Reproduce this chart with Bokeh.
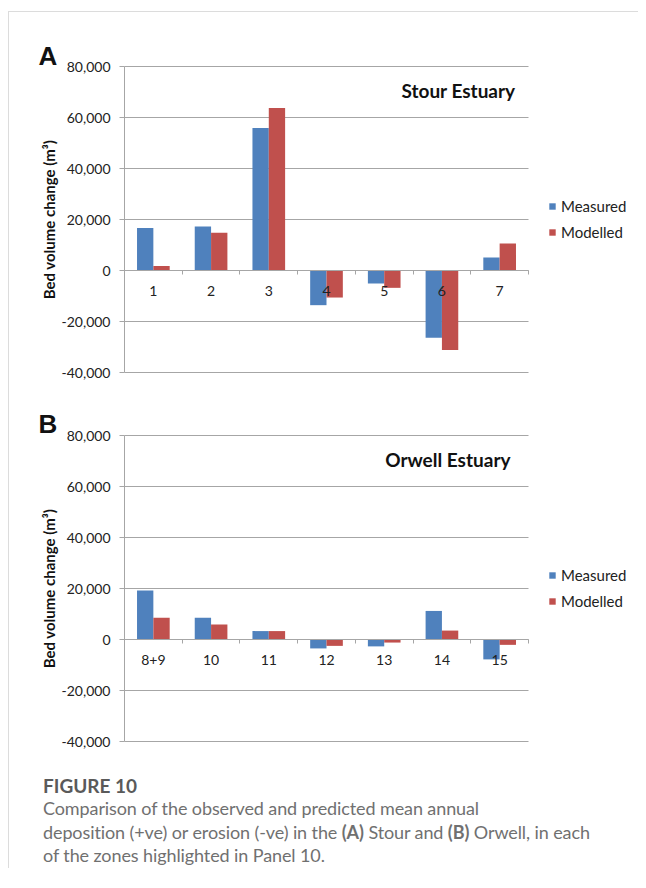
from bokeh.plotting import figure
from bokeh.models import (Range1d, LinearAxis, FixedTicker, NumeralTickFormatter,
                          Legend, LegendItem, Label, Div)
from bokeh.layouts import column
from bokeh.embed import file_html
from bokeh.resources import INLINE

# ---- data ----
zones_a = ["1", "2", "3", "4", "5", "6", "7"]
measured_a = [16700, 17300, 55900, -13600, -5100, -26400, 5100]
modelled_a = [1800, 14800, 63700, -10600, -6800, -31200, 10600]

zones_b = ["8+9", "10", "11", "12", "13", "14", "15"]
measured_b = [19200, 8500, 3300, -3500, -2700, 11200, -7800]
modelled_b = [8500, 5900, 3300, -2500, -1200, 3500, -2100]

y_ticks = [-40000, -20000, 0, 20000, 40000, 60000, 80000]
series_names = ["Measured", "Modelled"]
series_colors = ["#4F81BD", "#C0504D"]

FONT = "Lato"
GRID = "#a6a6a6"

# layout (pixels): the plotting area of each panel inside its canvas
FRAME_W, FRAME_H = 404, 306
LEFT, RIGHT = 115, 110


def make_panel(letter, title, zones, measured, modelled, top, bottom,
               title_dx, letter_dy):
    n = len(zones)
    px_x = FRAME_W / n
    px_y = FRAME_H / (y_ticks[-1] - y_ticks[0])
    p = figure(width=LEFT + FRAME_W + RIGHT, height=top + FRAME_H + bottom,
               x_range=Range1d(-LEFT / px_x, n + RIGHT / px_x),
               y_range=Range1d(y_ticks[0] - bottom / px_y, y_ticks[-1] + top / px_y),
               x_axis_location=None, y_axis_location=None, title=None,
               output_backend="svg", toolbar_location=None, min_border=0)
    p.outline_line_color = None
    p.grid.visible = False

    # horizontal gridlines at the y ticks, across the category span
    p.segment(x0=[0] * len(y_ticks), x1=[n] * len(y_ticks), y0=y_ticks, y1=y_ticks,
              line_color=GRID, line_width=1)

    bw = 0.283
    centers = [i + 0.5 for i in range(n)]
    xm = [c - bw / 2 for c in centers]
    xo = [c + bw / 2 for c in centers]
    r1 = p.vbar(x=xm, top=measured, bottom=0, width=bw, color=series_colors[0], line_color=None)
    r2 = p.vbar(x=xo, top=modelled, bottom=0, width=bw, color=series_colors[1], line_color=None)

    # y axis at x = 0
    yax = LinearAxis(ticker=FixedTicker(ticks=y_ticks), fixed_location=0,
                     bounds=(y_ticks[0], y_ticks[-1]),
                     formatter=NumeralTickFormatter(format="0,0"))
    yax.axis_line_color = GRID
    yax.major_tick_line_color = GRID
    yax.major_tick_out = 5
    yax.major_tick_in = 0
    yax.minor_tick_line_color = None
    yax.major_label_text_font = FONT
    yax.major_label_text_font_size = "14px"
    yax.major_label_text_color = "#222222"
    yax.major_label_standoff = 9
    yax.axis_label = "Bed volume change (m\u00b3)"
    yax.axis_label_text_font = FONT
    yax.axis_label_text_font_style = "bold"
    yax.axis_label_text_font_size = "15px"
    yax.axis_label_text_color = "#111111"
    yax.axis_label_standoff = 1
    p.add_layout(yax, "left")

    # category axis drawn at y = 0
    xax = LinearAxis(ticker=FixedTicker(ticks=centers, minor_ticks=list(range(n + 1))),
                     fixed_location=0, bounds=(0, n),
                     major_label_overrides={c: z for c, z in zip(centers, zones)})
    xax.axis_line_color = GRID
    xax.major_tick_line_color = None
    xax.minor_tick_line_color = GRID
    xax.minor_tick_out = 4
    xax.minor_tick_in = 0
    xax.major_label_text_font = FONT
    xax.major_label_text_font_size = "14px"
    xax.major_label_text_color = "#222222"
    xax.major_label_standoff = 9
    p.add_layout(xax, "below")

    legend = Legend(items=[LegendItem(label=series_names[0], renderers=[r1]),
                           LegendItem(label=series_names[1], renderers=[r2])],
                    location=(LEFT + FRAME_W + 20, bottom + 130),
                    glyph_width=8, glyph_height=8,
                    label_text_font=FONT, label_text_font_size="15px",
                    label_text_color="#222222", label_standoff=5, spacing=6,
                    label_height=20, padding=0, margin=0,
                    border_line_color=None, background_fill_alpha=0)
    p.add_layout(legend, "center")

    p.add_layout(Label(x=n, y=y_ticks[-1], x_offset=title_dx, y_offset=-24, text=title,
                       text_align="right", text_baseline="alphabetic",
                       text_font=FONT, text_font_style="bold",
                       text_font_size="19px", text_color="#111111"))
    p.add_layout(Label(x=0, y=y_ticks[-1], x_offset=-86, y_offset=letter_dy, text=letter,
                       text_align="left", text_baseline="top",
                       text_font="Liberation Sans", text_font_style="bold",
                       text_font_size="26px", text_color="#111111"))
    return p


pa = make_panel("A", "Stour Estuary", zones_a, measured_a, modelled_a,
                top=54, bottom=12, title_dx=-13, letter_dy=26)
pb = make_panel("B", "Orwell Estuary", zones_b, measured_b, modelled_b,
                top=51, bottom=12, title_dx=-18, letter_dy=27)

caption = Div(text=(
    "<div style='font-family:Lato;font-weight:bold;font-size:19px;color:#5a5a5a;"
    "line-height:22px;'>FIGURE 10</div>"
    "<div style='font-family:Lato;font-size:18px;color:#707070;line-height:23.5px;"
    "letter-spacing:-0.1px;'>"
    "Comparison of the observed and predicted mean annual<br>"
    "deposition (+ve) or erosion (-ve) in the <b>(A)</b> Stour and <b>(B)</b> Orwell, in each<br>"
    "of the zones highlighted in Panel 10.</div>"),
    width=600, margin=0, styles={"padding-left": "34px", "padding-top": "22px"})

layout = column(pa, pb, caption, margin=(11, 0, 0, 8),
                styles={"border-top": "1px solid #dcdcdc", "border-left": "1px solid #dcdcdc"})

open("out.html", "w").write(file_html(layout, INLINE))
